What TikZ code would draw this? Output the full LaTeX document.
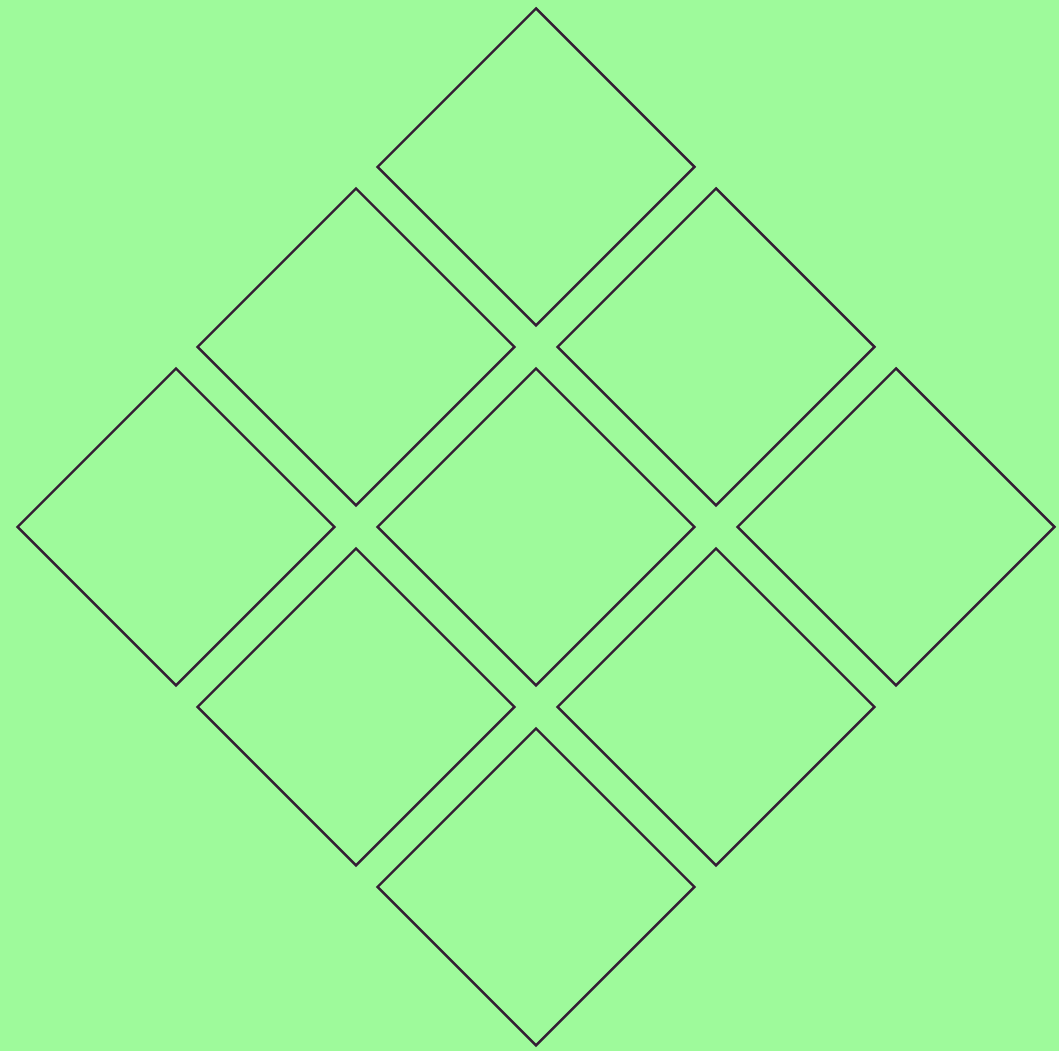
\documentclass[tikz,border=0pt]{standalone}
\usepackage{tikz}
\usetikzlibrary{shapes.geometric}
\definecolor{tilegreen}{RGB}{158, 250, 155}
\definecolor{tileedge}{RGB}{52, 30, 52}

\begin{document}
\begin{tikzpicture}[
    tile/.style={diamond, draw=tileedge, line width=0.7pt, aspect=1, inner sep=0pt, minimum width=3.18cm, minimum height=3.18cm}]

    % Background
    \fill[tilegreen] (0,0) rectangle (10.59,10.51);
    \useasboundingbox (0,0) rectangle (10.59,10.51);

    % Tiles
    \foreach \i in {0,1,2} {
        \foreach \j in {0,1,2} {
            \node[tile] (tile-\i-\j) at ({5.36+1.80*(\j-\i)}, {8.84-1.80*(\i+\j)}) {};
        }
    }
\end{tikzpicture}
\end{document}
